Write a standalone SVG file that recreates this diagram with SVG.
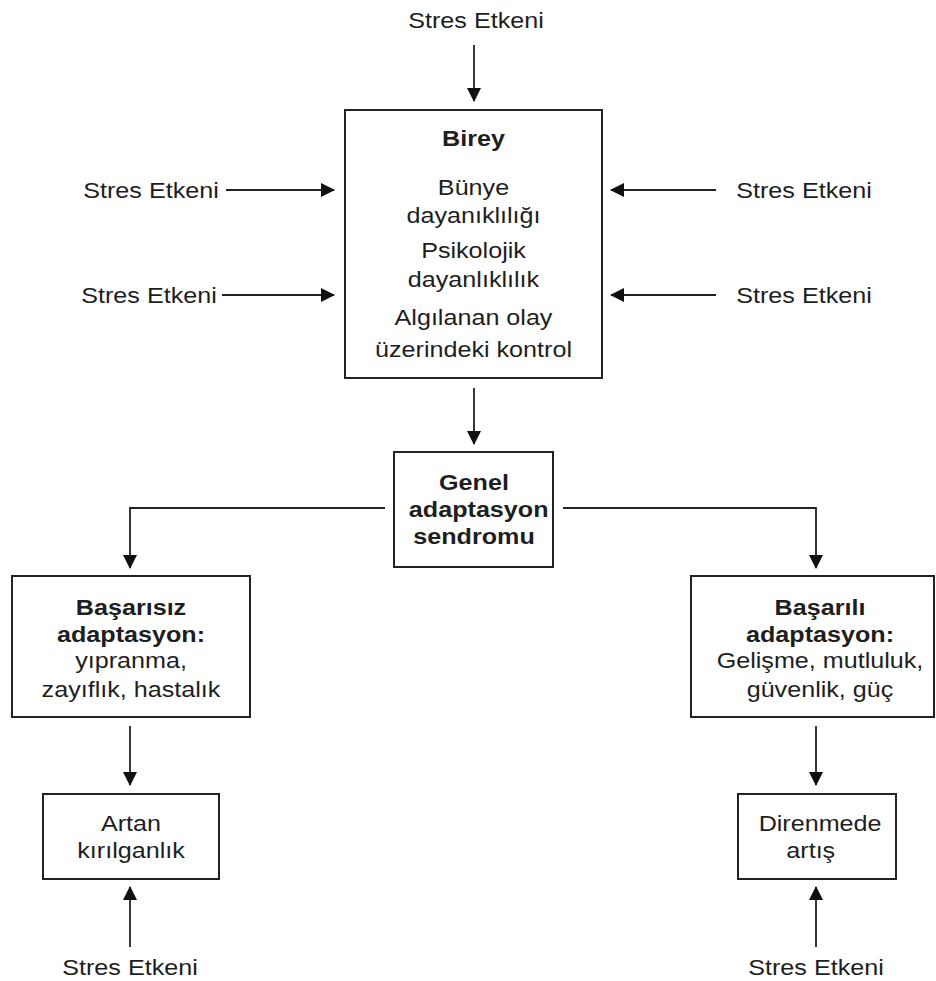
<svg xmlns="http://www.w3.org/2000/svg" width="936" height="981" viewBox="0 0 936 981">
<style>
text{font-family:"Liberation Sans",Arial,sans-serif;font-size:21.5px;fill:#1e1e1e;text-anchor:middle}
.b{font-weight:bold}
.box{fill:#fff;stroke:#222;stroke-width:2}
.ln{fill:none;stroke:#222;stroke-width:1.8}
</style>
<defs>
<marker id="ah" markerUnits="userSpaceOnUse" markerWidth="14" markerHeight="14" viewBox="0 0 14 14" refX="13" refY="7" orient="auto">
<path d="M0,0 L14,7 L0,14 Z" fill="#111"/>
</marker>
</defs>
<g id="connectors">
<line class="ln" x1="474" y1="45" x2="474" y2="101" marker-end="url(#ah)"/>
<line class="ln" x1="226" y1="190" x2="334" y2="190" marker-end="url(#ah)"/>
<line class="ln" x1="222" y1="295" x2="334" y2="295" marker-end="url(#ah)"/>
<line class="ln" x1="716" y1="190" x2="611" y2="190" marker-end="url(#ah)"/>
<line class="ln" x1="716" y1="295" x2="611" y2="295" marker-end="url(#ah)"/>
<line class="ln" x1="474" y1="388" x2="474" y2="444" marker-end="url(#ah)"/>
<polyline class="ln" points="385,508 130,508 130,568" marker-end="url(#ah)"/>
<polyline class="ln" points="563,508 816,508 816,568" marker-end="url(#ah)"/>
<line class="ln" x1="130" y1="726" x2="130" y2="785" marker-end="url(#ah)"/>
<line class="ln" x1="816" y1="726" x2="816" y2="785" marker-end="url(#ah)"/>
<line class="ln" x1="130" y1="947" x2="130" y2="887" marker-end="url(#ah)"/>
<line class="ln" x1="816" y1="947" x2="816" y2="887" marker-end="url(#ah)"/>
</g>
<g id="stres-top"><g transform="translate(476,0) scale(1.17,1)"><text x="0" y="28">Stres Etkeni</text></g></g>
<g id="stres-left1"><g transform="translate(151,0) scale(1.17,1)"><text x="0" y="198">Stres Etkeni</text></g></g>
<g id="stres-left2"><g transform="translate(149,0) scale(1.17,1)"><text x="0" y="303">Stres Etkeni</text></g></g>
<g id="stres-right1"><g transform="translate(804,0) scale(1.17,1)"><text x="0" y="198">Stres Etkeni</text></g></g>
<g id="stres-right2"><g transform="translate(804,0) scale(1.17,1)"><text x="0" y="303">Stres Etkeni</text></g></g>
<g id="birey">
<rect class="box" x="345" y="110" width="257" height="268"/>
<g transform="translate(473.5,0) scale(1.17,1)">
<text class="b" x="0" y="146">Birey</text>
<text x="0" y="195">Bünye</text>
<text x="0" y="223">dayanıklılığı</text>
<text x="0" y="258">Psikolojik</text>
<text x="0" y="287">dayanlıklılık</text>
<text x="0" y="325">Algılanan olay</text>
<text x="0" y="357">üzerindeki kontrol</text>
</g>
</g>
<g id="genel">
<rect class="box" x="394" y="452" width="159" height="115"/>
<g transform="translate(474,0) scale(1.17,1)">
<text class="b" x="0" y="490">Genel</text>
<text class="b" x="4" y="517">adaptasyon</text>
<text class="b" x="0" y="544">sendromu</text>
</g>
</g>
<g id="basarisiz">
<rect class="box" x="12" y="576" width="238" height="141"/>
<g transform="translate(131,0) scale(1.17,1)">
<text class="b" x="0" y="615">Başarısız</text>
<text class="b" x="0" y="642">adaptasyon:</text>
<text x="0" y="668">yıpranma,</text>
<text x="0" y="697">zayıflık, hastalık</text>
</g>
</g>
<g id="basarili">
<rect class="box" x="691" y="576" width="243" height="141"/>
<g transform="translate(820,0) scale(1.17,1)">
<text class="b" x="0" y="615">Başarılı</text>
<text class="b" x="0" y="642">adaptasyon:</text>
<text x="0" y="668">Gelişme, mutluluk,</text>
<text x="0" y="697">güvenlik, güç</text>
</g>
</g>
<g id="artan">
<rect class="box" x="43" y="794" width="176" height="85"/>
<g transform="translate(131,0) scale(1.17,1)">
<text x="0" y="831">Artan</text>
<text x="0" y="858">kırılganlık</text>
</g>
</g>
<g id="direnmede">
<rect class="box" x="738" y="794" width="158" height="85"/>
<g transform="translate(816,0) scale(1.17,1)">
<text x="3.5" y="831">Direnmede</text>
<text x="-4.5" y="858">artış</text>
</g>
</g>
<g id="stres-bottom-left"><g transform="translate(130,0) scale(1.17,1)"><text x="0" y="975">Stres Etkeni</text></g></g>
<g id="stres-bottom-right"><g transform="translate(816,0) scale(1.17,1)"><text x="0" y="975">Stres Etkeni</text></g></g>
</svg>
